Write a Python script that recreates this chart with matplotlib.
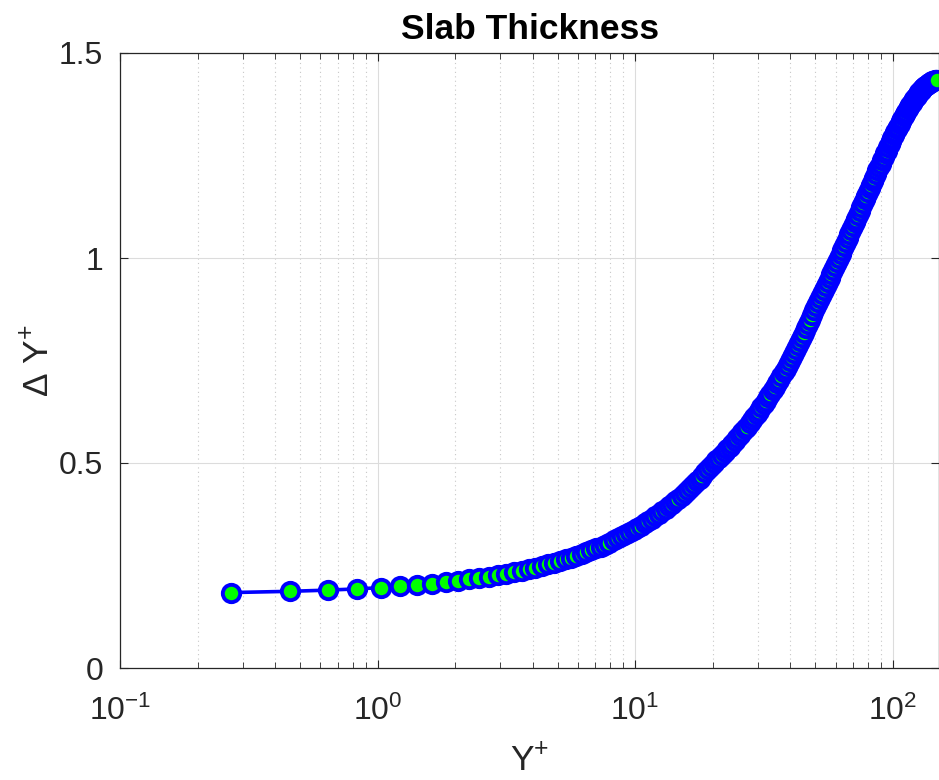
import numpy as np
import matplotlib
matplotlib.use("Agg")
import matplotlib.pyplot as plt

plt.rcParams['font.family'] = ['Liberation Sans', 'DejaVu Sans']
plt.rcParams['mathtext.default'] = 'regular'

# slab thickness (Delta Y+) of each cell, wall -> centre
dy_plus = [
    0.184, 0.187, 0.190, 0.193, 0.196, 0.199, 0.202, 0.206, 0.209, 0.212,
    0.216, 0.219, 0.223, 0.226, 0.230, 0.234, 0.237, 0.241, 0.245, 0.249,
    0.253, 0.257, 0.261, 0.265, 0.269, 0.274, 0.278, 0.283, 0.287, 0.292,
    0.296, 0.301, 0.306, 0.311, 0.316, 0.321, 0.326, 0.331, 0.336, 0.342,
    0.347, 0.353, 0.358, 0.364, 0.370, 0.376, 0.382, 0.388, 0.394, 0.401,
    0.407, 0.413, 0.420, 0.427, 0.434, 0.441, 0.448, 0.455, 0.462, 0.469,
    0.477, 0.485, 0.492, 0.500,
    0.507, 0.513, 0.520, 0.526, 0.533, 0.540, 0.546, 0.553, 0.560, 0.568,
    0.575, 0.582, 0.589, 0.597, 0.605, 0.612, 0.620, 0.628, 0.636, 0.644,
    0.652, 0.660, 0.669, 0.677, 0.686, 0.695, 0.703, 0.712, 0.721, 0.730,
    0.740, 0.749, 0.759, 0.768, 0.778, 0.788, 0.798, 0.808, 0.818, 0.829,
    0.839, 0.850, 0.861, 0.872, 0.883,
    0.892, 0.902, 0.912, 0.921, 0.931, 0.941, 0.951, 0.961, 0.970, 0.980,
    0.990, 1.000, 1.009, 1.019, 1.029, 1.039, 1.048, 1.058, 1.068, 1.077,
    1.087, 1.096, 1.106, 1.115, 1.125, 1.134, 1.143, 1.152, 1.161, 1.170,
    1.179, 1.188, 1.196, 1.205, 1.214, 1.222, 1.230, 1.238, 1.247, 1.255,
    1.262, 1.270, 1.278, 1.285, 1.293, 1.300, 1.307, 1.314, 1.320, 1.327,
    1.333, 1.340, 1.346, 1.351, 1.357, 1.363, 1.368, 1.373, 1.378, 1.383,
    1.388, 1.392, 1.396, 1.400, 1.404, 1.408, 1.411, 1.414, 1.417, 1.420,
    1.422, 1.424, 1.427, 1.428, 1.430, 1.431, 1.432, 1.433, 1.433, 1.434,
]
y_first = 0.27  # Y+ of the first cell centre

xticks = [0.1, 1, 10, 100]
xticklabels = ['$10^{-1}$', '$10^{0}$', '$10^{1}$', '$10^{2}$']
yticks = [0, 0.5, 1, 1.5]
yticklabels = ['0', '0.5', '1', '1.5']

# cell centres: each step is half of the two neighbouring slabs
dy = np.array(dy_plus)
y_plus = y_first + np.concatenate([[0], np.cumsum((dy[:-1] + dy[1:]) / 2)])

fig = plt.figure(figsize=(9.39, 7.8), dpi=100)
ax = fig.add_axes([120 / 939, 112 / 780, 1.0005 - 120 / 939, 615 / 780])

ax.semilogx(y_plus, dy, '-o', color='#0000FF', lw=2.6,
            markersize=12.5, markeredgewidth=2.8,
            markeredgecolor='#0000FF', markerfacecolor='#00FF00')

ax.set_xlim(0.1, 152)
ax.set_ylim(0, 1.5)
ax.set_xticks(xticks)
ax.set_xticklabels(xticklabels)
ax.set_yticks(yticks)
ax.set_yticklabels(yticklabels)

ax.grid(True, which='major', color='#dcdcdc', lw=0.8, ls='-')
ax.grid(True, which='minor', axis='x', color='#c8c8c8', lw=0.8, ls=(0, (1, 3)))
ax.set_axisbelow(True)

ax.tick_params(which='both', direction='in', top=True, right=True,
               colors='#262626', labelsize=23)
ax.tick_params(axis='x', pad=20)
ax.tick_params(axis='y', pad=12)
ax.tick_params(which='major', length=6, width=0.8)
ax.tick_params(which='minor', length=4, width=0.6)
for s in ax.spines.values():
    s.set_color('#262626')
    s.set_linewidth(0.9)

ax.set_title('Slab Thickness', fontsize=25.5, fontweight='bold', pad=10)
ax.set_xlabel('$Y^{+}$', fontsize=25.5, color='#262626')
ax.set_ylabel('Δ $Y^{+}$', fontsize=25.5, color='#262626')
ax.xaxis.set_label_coords(0.5, -0.124)
ax.yaxis.set_label_coords(-0.078, 0.5)

fig.savefig('out.png', dpi=100)
